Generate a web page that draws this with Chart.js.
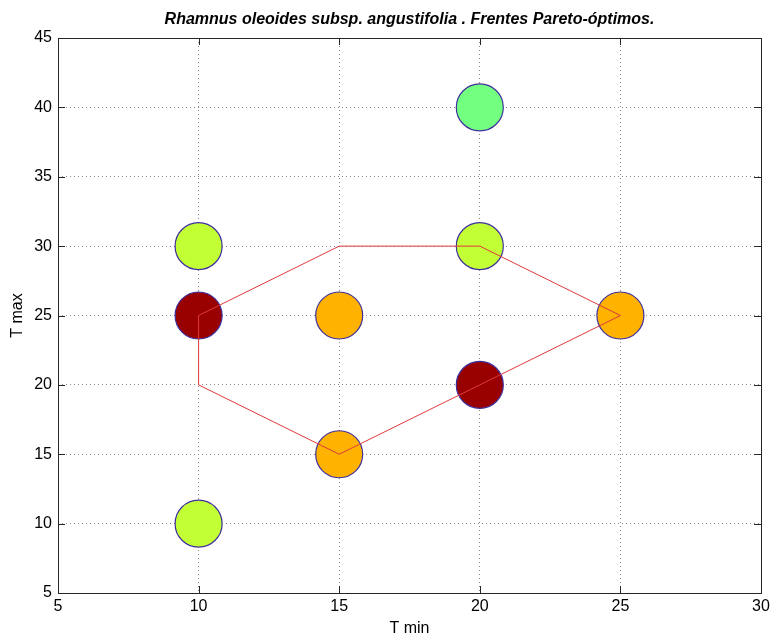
<!DOCTYPE html>
<html>
<head>
<meta charset="utf-8">
<script src="https://cdn.jsdelivr.net/npm/chart.js@4.4.1/dist/chart.umd.min.js"></script>
<style>
  html, body { margin: 0; padding: 0; background: #ffffff; }
  #wrap { width: 770px; height: 633px; }
</style>
</head>
<body>
<div id="wrap"><canvas id="c" width="770" height="633"></canvas></div>
<script>
// ---- data ----
const titleText = "Rhamnus oleoides subsp. angustifolia . Frentes Pareto-óptimos.";
const xLabel = "T min";
const yLabel = "T max";

const pointX = [10, 10, 10, 15, 15, 20, 20, 20, 25];
const pointY = [30, 25, 10, 25, 15, 40, 30, 20, 25];
const pointColors = ["#c3ff35", "#990000", "#c3ff35", "#ffb300", "#ffb300", "#73ff80", "#c3ff35", "#990000", "#ffb300"];

const frontX = [10, 15, 20, 25, 20, 15, 10, 10];
const frontY = [25, 30, 30, 25, 20, 15, 20, 25];

const xTicks = [5, 10, 15, 20, 25, 30];
const yTicks = [5, 10, 15, 20, 25, 30, 35, 40, 45];

// ---- build ----
const pts = pointX.map((x, i) => ({ x: x, y: pointY[i] }));
const front = frontX.map((x, i) => ({ x: x, y: frontY[i] }));
const FONT = 'Liberation Sans, Arial, sans-serif';

const boxPlugin = {
  id: 'boxPlugin',
  afterDraw(chart) {
    const ctx = chart.ctx;
    const a = chart.chartArea;
    const xs = chart.scales.x, ys = chart.scales.y;
    ctx.save();
    ctx.strokeStyle = '#262626';
    ctx.lineWidth = 1;
    ctx.beginPath();
    xTicks.forEach(v => {
      const px = Math.round(xs.getPixelForValue(v)) + 0.5;
      ctx.moveTo(px, a.bottom); ctx.lineTo(px, a.bottom - 7);
      ctx.moveTo(px, a.top); ctx.lineTo(px, a.top + 7);
    });
    yTicks.forEach(v => {
      const py = Math.round(ys.getPixelForValue(v)) + 0.5;
      ctx.moveTo(a.left, py); ctx.lineTo(a.left + 7, py);
      ctx.moveTo(a.right, py); ctx.lineTo(a.right - 7, py);
    });
    ctx.stroke();
    ctx.strokeRect(Math.round(a.left) + 0.5, Math.round(a.top) + 0.5,
                   Math.round(a.right - a.left), Math.round(a.bottom - a.top));
    ctx.restore();
  }
};

new Chart(document.getElementById('c'), {
  type: 'scatter',
  data: {
    datasets: [
      {
        type: 'line',
        data: front,
        showLine: true,
        borderColor: '#e0393c',
        borderWidth: 1,
        pointRadius: 0,
        fill: false,
        tension: 0,
        order: 0
      },
      {
        data: pts,
        pointRadius: 23.5,
        pointHoverRadius: 23.5,
        backgroundColor: pointColors,
        borderColor: '#3e2f9c',
        borderWidth: 1.2,
        order: 1
      }
    ]
  },
  options: {
    responsive: false,
    animation: false,
    devicePixelRatio: 1,
    layout: { autoPadding: false, padding: { left: 0, right: 9, top: 0, bottom: 0 } },
    plugins: {
      legend: { display: false },
      tooltip: { enabled: false },
      title: {
        display: true,
        text: titleText,
        fullSize: false,
        color: '#000000',
        font: { family: FONT, size: 16, style: 'italic', weight: 'bold' },
        padding: { top: 10, bottom: 8.8 }
      }
    },
    scales: {
      x: {
        type: 'linear',
        min: 5, max: 30,
        afterBuildTicks: s => { s.ticks = xTicks.map(v => ({ value: v })); },
        afterFit: s => { s.height = 40; s.paddingLeft = 0; s.paddingRight = 0; },
        grid: { color: '#8a8a8a', lineWidth: 1, drawTicks: false },
        border: { display: false, dash: [1, 3] },
        ticks: { color: '#000', padding: 4, font: { family: FONT, size: 16 } },
        title: { display: true, text: xLabel, color: '#000', padding: { top: -5, bottom: -5 },
                 font: { family: FONT, size: 16 } }
      },
      y: {
        type: 'linear',
        min: 5, max: 45,
        afterBuildTicks: s => { s.ticks = yTicks.map(v => ({ value: v })); },
        afterFit: s => { s.width = 58; s.paddingTop = 0; s.paddingBottom = 0; },
        grid: { color: '#8a8a8a', lineWidth: 1, drawTicks: false },
        border: { display: false, dash: [1, 3] },
        ticks: { color: '#000', padding: 6, font: { family: FONT, size: 16 } },
        title: { display: true, text: yLabel, color: '#000', padding: { top: 8, bottom: 0 },
                 font: { family: FONT, size: 16 } }
      }
    }
  },
  plugins: [boxPlugin]
});
</script>
</body>
</html>
